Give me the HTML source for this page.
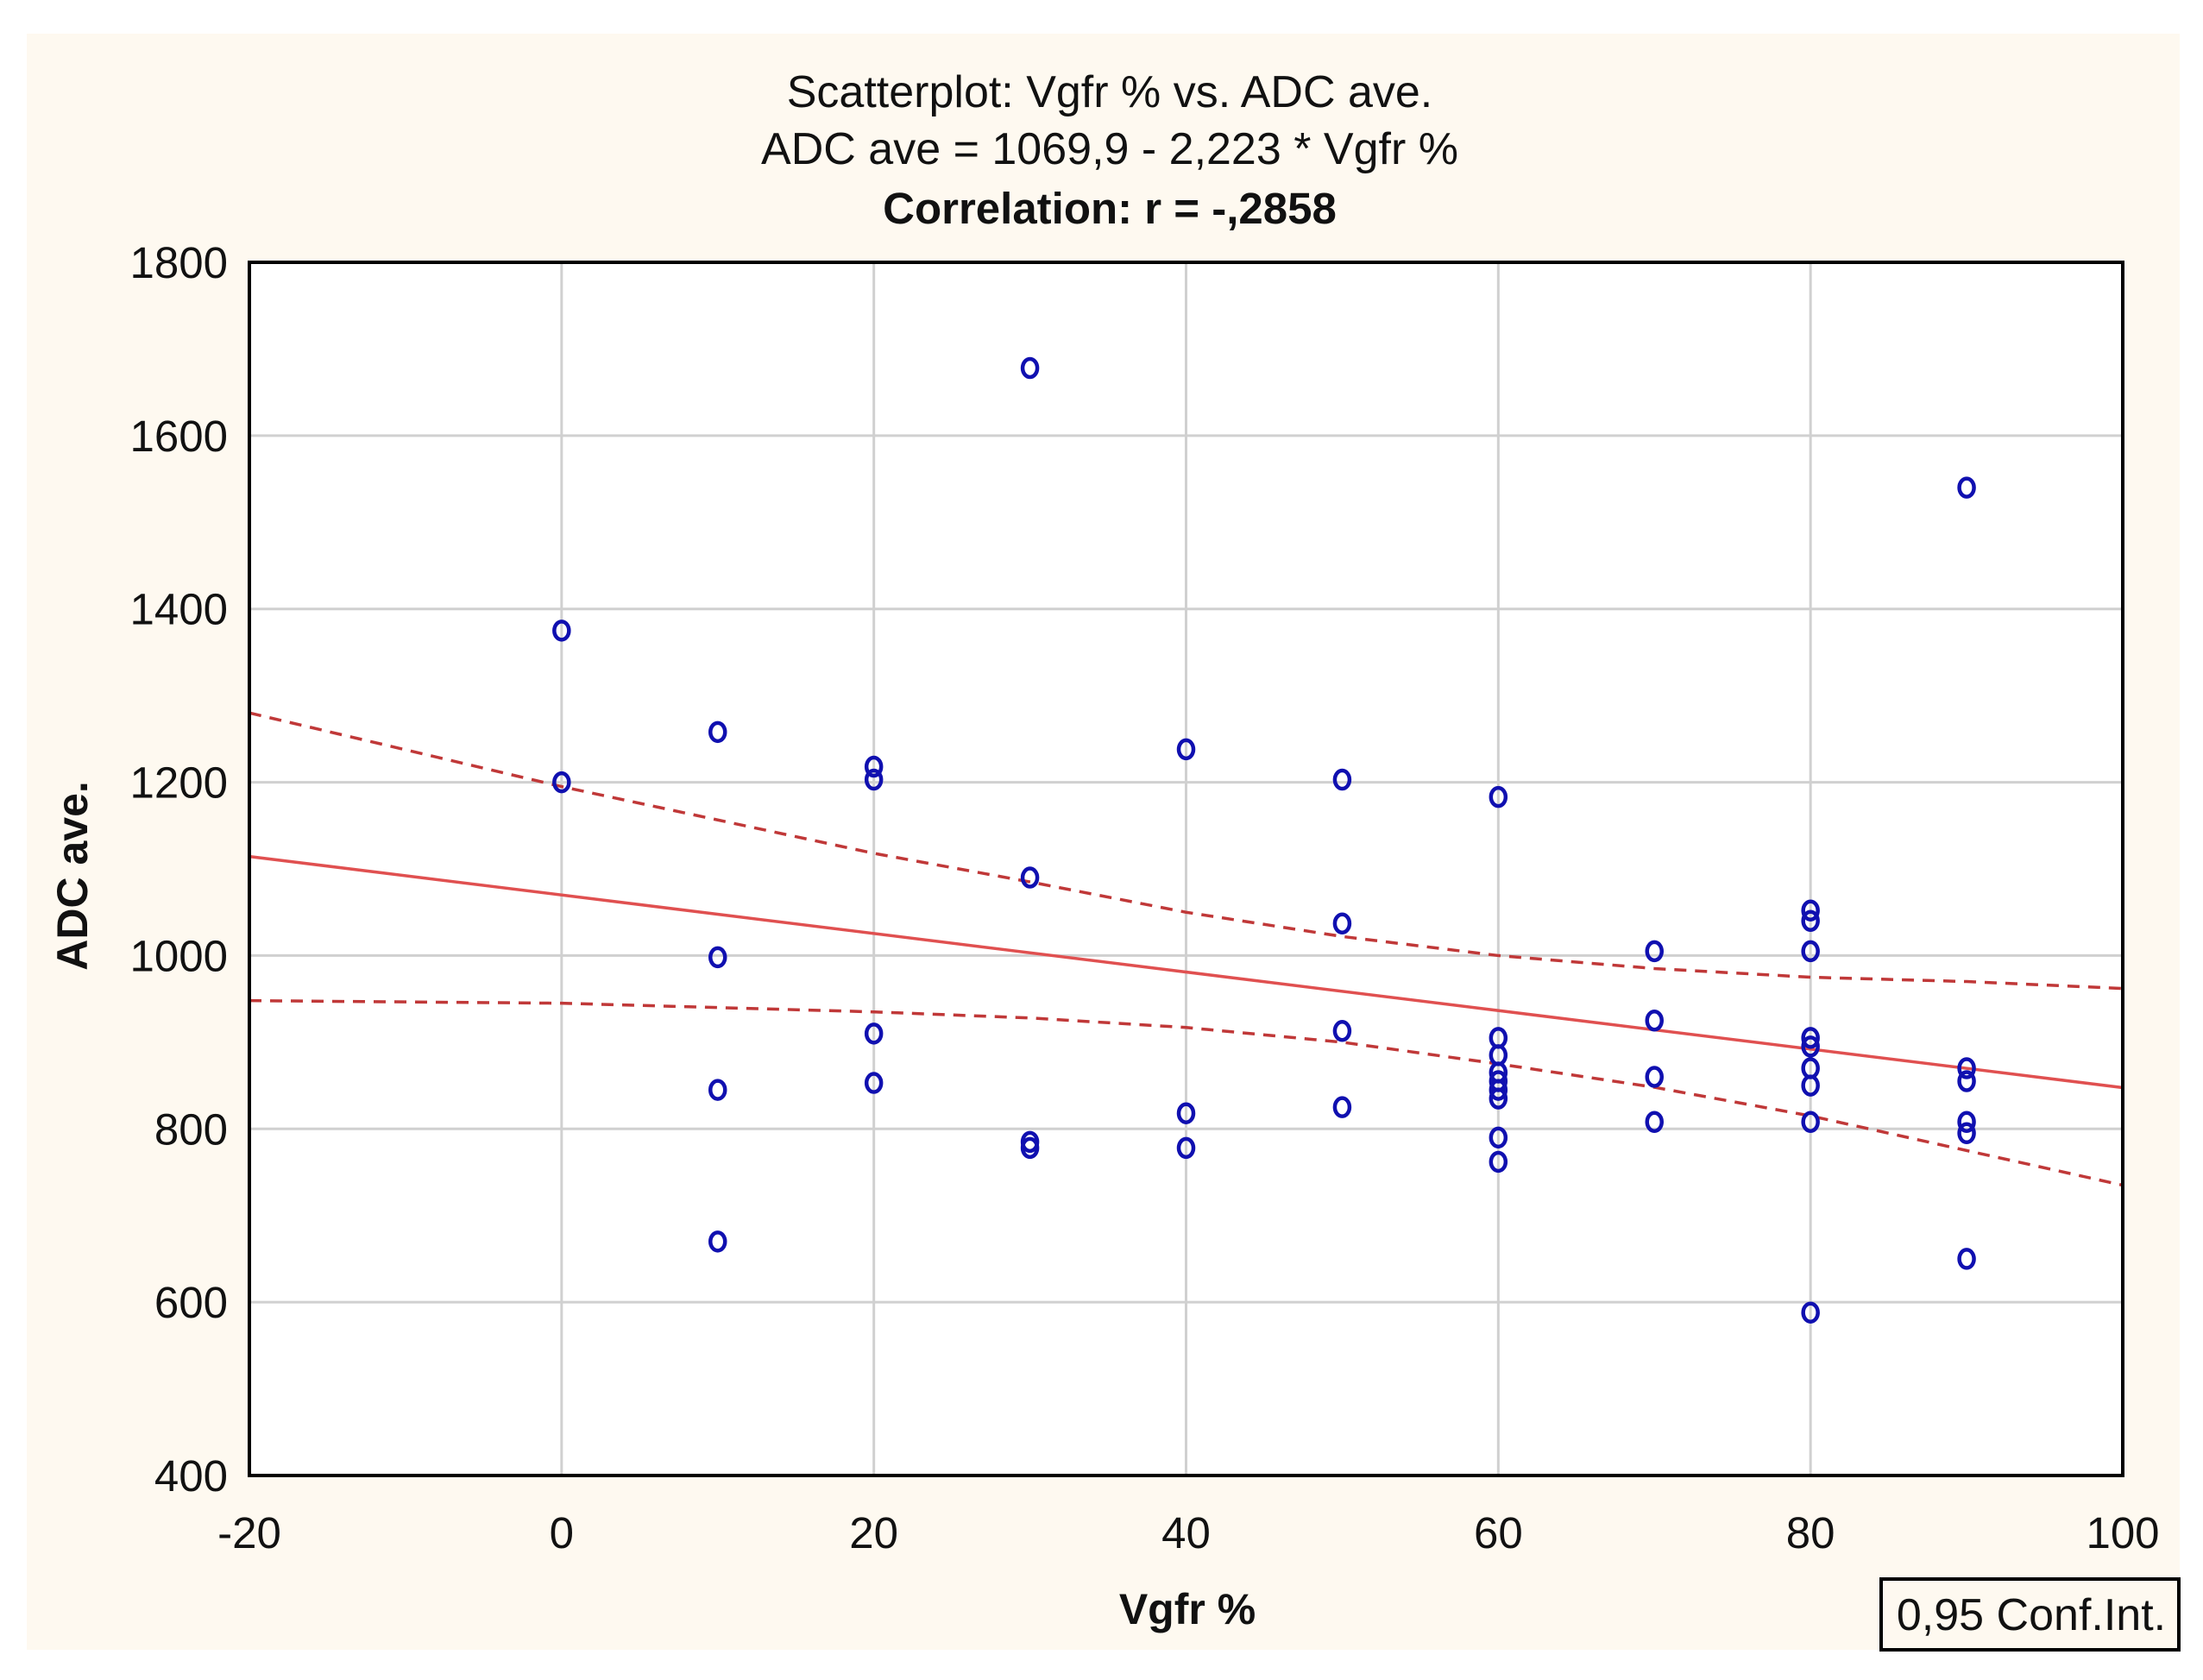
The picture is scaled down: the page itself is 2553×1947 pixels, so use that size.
<!DOCTYPE html>
<html><head><meta charset="utf-8"><style>
html,body{margin:0;padding:0;background:#fff;}
svg{display:block;}
text{font-family:"Liberation Sans",sans-serif;fill:#111;}
</style></head><body>
<svg id="chart" width="2553" height="1947" viewBox="0 0 2553 1947">
<rect x="31" y="39" width="2495" height="1873" fill="#fef9f0"/>
<rect x="289" y="304" width="2171" height="1406" fill="#fff"/>
<g id="grid"></g>
<g id="bands"></g>
<g id="points"></g>
<rect x="289" y="304" width="2171" height="1406" fill="none" stroke="#000" stroke-width="4"/>
<g id="ticks"></g>
<text x="1286" y="124" font-size="52" text-anchor="middle">Scatterplot: Vgfr % vs. ADC ave.</text>
<text x="1286" y="190" font-size="52" text-anchor="middle">ADC ave = 1069,9 - 2,223  * Vgfr %</text>
<text x="1286" y="259" font-size="51" font-weight="bold" text-anchor="middle">Correlation: r = -,2858</text>
<text x="1376" y="1882" font-size="50" font-weight="bold" text-anchor="middle">Vgfr %</text>
<text x="0" y="0" font-size="50" font-weight="bold" text-anchor="middle" transform="translate(101,1015) rotate(-90)">ADC ave.</text>
<rect x="2180" y="1830" width="345" height="82" fill="#fef9f0" stroke="#000" stroke-width="4"/>
<text x="2354" y="1889" font-size="52" text-anchor="middle">0,95 Conf.Int.</text>
</svg>
<script>
const xTicks=[-20,0,20,40,60,80,100];
const yTicks=[400,600,800,1000,1200,1400,1600,1800];
const ptX=[0,0,10,10,10,10,20,20,20,20,30,30,30,30,40,40,40,50,50,50,50,60,60,60,60,60,60,60,60,60,70,70,70,70,80,80,80,80,80,80,80,80,80,90,90,90,90,90,90];
const ptY=[1375,1200,1258,998,845,670,1218,1203,910,853,1678,1090,785,778,1238,818,778,1203,1037,913,825,1183,905,885,865,855,845,835,790,762,1005,925,860,808,1052,1040,1005,905,895,870,850,808,588,1540,870,855,808,795,650];
const regIntercept=1069.9;
const regSlope=-2.223;
const bandX=[-20,0,20,30,40,50,60,70,80,90,100];
const upperY=[1280,1195,1118,1085,1050,1022,1000,985,975,970,962];
const lowerY=[948,945,935,928,917,900,875,848,815,775,735];
const X0=289,X1=2460,Y0=1710,Y1=304;
const sx=v=>X0+(v+20)/120*(X1-X0);
const sy=v=>Y0-(v-400)/1400*(Y0-Y1);
const NS="http://www.w3.org/2000/svg";
function mk(tag,attrs,parent){const e=document.createElementNS(NS,tag);for(const k in attrs)e.setAttribute(k,attrs[k]);parent.appendChild(e);return e;}
const grid=document.getElementById('grid'),ticks=document.getElementById('ticks');
xTicks.forEach(t=>{
 if(t>-20&&t<100){const l=mk('line',{x1:sx(t),x2:sx(t),y1:Y1,y2:Y0,stroke:'#d0d0d0','stroke-width':3},grid);
 
 }
 const tx=mk('text',{x:sx(t),y:1794,'font-size':51,'text-anchor':'middle'},ticks);tx.textContent=t;
 
 
});
yTicks.forEach(t=>{
 if(t>400&&t<1800){const l=mk('line',{x1:X0,x2:X1,y1:sy(t),y2:sy(t),stroke:'#d0d0d0','stroke-width':3},grid);
 
 }
 const tx=mk('text',{x:264,y:sy(t)+18,'font-size':51,'text-anchor':'end'},ticks);tx.textContent=t;
 
 
});
const bands=document.getElementById('bands');
const reg=mk('line',{x1:sx(-20),y1:sy(regIntercept+regSlope*-20),x2:sx(100),y2:sy(regIntercept+regSlope*100),stroke:'#e05050','stroke-width':3.5},bands);


[[upperY,'upper-confidence-band'],[lowerY,'lower-confidence-band']].forEach(([arr,name])=>{
 const p=mk('polyline',{points:bandX.map((x,i)=>sx(x)+','+sy(arr[i])).join(' '),fill:'none',stroke:'#c03838','stroke-width':3.5,'stroke-dasharray':'14 10'},bands);
 
 
});
const pts=document.getElementById('points');
ptX.forEach((x,i)=>{
 const c=mk('ellipse',{cx:sx(x),cy:sy(ptY[i]),rx:8.5,ry:10.5,fill:'none',stroke:'#1010b0','stroke-width':4.5},pts);
 
 
});
</script>
</body></html>
